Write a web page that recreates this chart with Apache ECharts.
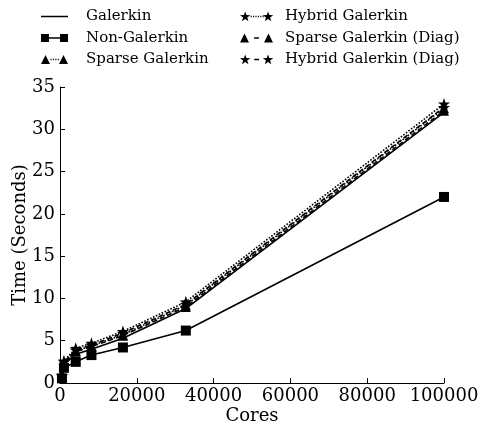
<!DOCTYPE html>
<html>
<head>
<meta charset="utf-8">
<script src="https://cdn.jsdelivr.net/npm/echarts@6/dist/echarts.min.js"></script>
<style>html,body{margin:0;padding:0;background:#fff;}#c{width:481px;height:427px;}</style>
</head>
<body>
<div id="c"></div>
<script>
const cores = [512, 1024, 4096, 8192, 16384, 32768, 100000];
const galerkin = [0.7, 2.2, 3.4, 4.0, 5.3, 8.8, 32.0];
const nonGalerkin = [0.55, 1.8, 2.5, 3.3, 4.2, 6.2, 22.0];
const sparseGalerkin = [0.8, 2.4, 3.8, 4.4, 5.7, 9.2, 32.5];
const hybridGalerkin = [0.9, 2.6, 4.1, 4.7, 6.1, 9.6, 33.0];
const sparseDiag = [0.8, 2.3, 3.7, 4.3, 5.6, 9.0, 32.2];
const hybridDiag = [0.85, 2.5, 3.9, 4.5, 5.9, 9.3, 32.6];
const xTicks = [0, 20000, 40000, 60000, 80000, 100000];
const yTicks = [0, 5, 10, 15, 20, 25, 30, 35];

const font = 'DejaVu Serif';
// ---- marker / legend icon path helpers (styling only) ----
const STAR = [[0,-10],[2.35,-3.24],[9.51,-3.09],[3.8,1.24],[5.88,8.09],[0,4],[-5.88,8.09],[-3.8,1.24],[-9.51,-3.09],[-2.35,-3.24]];
function starP(cx, cy, r){ return 'M' + STAR.map(p => (cx + p[0]*r/10).toFixed(2) + ',' + (cy + p[1]*r/10).toFixed(2)).join('L') + 'Z'; }
function sqP(cx, cy, s){ const h = s/2; return `M${cx-h},${cy-h}L${cx+h},${cy-h}L${cx+h},${cy+h}L${cx-h},${cy+h}Z`; }
function triP(cx, cy, s){ const h = s/2; return `M${cx},${cy-h}L${cx+h},${cy+h}L${cx-h},${cy+h}Z`; }
function rectP(x0, x1, y0, y1){ return `M${x0},${y0}L${x1},${y0}L${x1},${y1}L${x0},${y1}Z`; }
const W = 40, H = 12, CY = 6;
const bbox = `M0,0L0.01,0L0,0.01Z M${W},${H}L${W-0.01},${H}L${W},${H-0.01}Z`;
function seg(kind, x0, x1){
  const y0 = CY - 0.8, y1 = CY + 0.8;
  if (kind === 'solid') return rectP(x0, x1, y0, y1);
  let s = '';
  if (kind === 'dotted'){ for (let x = x0 + 1; x + 1 <= x1; x += 2.4) s += rectP(x, x + 1.1, y0, y1); }
  else { const m = (x0 + x1)/2; s = rectP(m - 2.4, m + 2.4, y0, y1); }
  return s;
}
function icon(marker, kind, dw){
  let m = '', gap0 = 0, gap1 = dw;
  if (marker === 'sq'){ m = sqP(4, CY, 8) + sqP(dw-4, CY, 8); gap0 = 8; gap1 = dw-8; }
  if (marker === 'tri'){ m = triP(4.5, CY, 9) + triP(dw-4.5, CY, 9); gap0 = 8.5; gap1 = dw-8.5; }
  if (marker === 'star'){ m = starP(5, CY+0.4, 5.5) + starP(dw-5, CY+0.4, 5.5); gap0 = 9.5; gap1 = dw-9.5; }
  return 'path://' + bbox + m + seg(kind, gap0, gap1);
}
const starSym = 'path://' + starP(0, 0, 10);

function pts(vals){ return cores.map((c,i)=>[c, vals[i]]); }
function ser(name, vals, symbol, size, type){
  return {
    name, type:'line', data: pts(vals),
    symbol: symbol || 'none', symbolSize: size || 0, showSymbol: !!symbol,
    lineStyle:{color:'#000', width:1.6, type: type || 'solid'},
    itemStyle:{color:'#000'},
    animation:false
  };
}
const chart = echarts.init(document.getElementById('c'));
const legendCommon = {
  orient:'vertical', top:4, itemWidth:W, itemHeight:H, itemGap:6.5,
  symbolKeepAspect:false,
  textStyle:{fontFamily:font, fontSize:15, color:'#000'}
};
chart.setOption({
  animation:false,
  backgroundColor:'#fff',
  legend:[
    Object.assign({left:36, data:[
      {name:'Galerkin', icon: icon('none','solid', 27)},
      {name:'Non-Galerkin', icon: icon('sq','solid', 27)},
      {name:'Sparse Galerkin', icon: icon('tri','dotted', 27)}
    ]}, legendCommon),
    Object.assign({left:235, data:[
      {name:'Hybrid Galerkin', icon: icon('star','dotted', 33)},
      {name:'Sparse Galerkin (Diag)', icon: icon('tri','dashed', 33)},
      {name:'Hybrid Galerkin (Diag)', icon: icon('star','dashed', 33)}
    ]}, legendCommon)
  ],
  grid:{left:60, right:37, top:87, bottom:44, outerBoundsMode:'none', containLabel:false},
  xAxis:{
    type:'value', min:0, max:100000, interval:20000,
    name:'Cores', nameLocation:'middle', nameGap:24, nameMoveOverlap:false,
    nameTextStyle:{fontFamily:font, fontSize:18, color:'#000'},
    axisLine:{lineStyle:{color:'#000', width:1}},
    axisTick:{inside:true, length:5, lineStyle:{color:'#000'}},
    axisLabel:{fontFamily:font, fontSize:18, color:'#000', margin:4,
      formatter: v => xTicks.includes(v) ? String(v) : ''},
    splitLine:{show:false}
  },
  yAxis:{
    type:'value', min:0, max:35, interval:5,
    name:'Time (Seconds)', nameLocation:'middle', nameGap:31, nameMoveOverlap:false,
    nameTextStyle:{fontFamily:font, fontSize:18, color:'#000'},
    axisLine:{show:true, lineStyle:{color:'#000', width:1}},
    axisTick:{show:true, inside:true, length:5, lineStyle:{color:'#000'}},
    axisLabel:{fontFamily:font, fontSize:18, color:'#000', margin:5,
      formatter: v => yTicks.includes(v) ? String(v) : ''},
    splitLine:{show:false}
  },
  series:[
    ser('Galerkin', galerkin, null, 0, 'solid'),
    ser('Non-Galerkin', nonGalerkin, 'rect', 10, 'solid'),
    ser('Sparse Galerkin', sparseGalerkin, 'triangle', 10, 'dotted'),
    ser('Hybrid Galerkin', hybridGalerkin, starSym, 12, 'dotted'),
    ser('Sparse Galerkin (Diag)', sparseDiag, 'triangle', 10, [5,3]),
    ser('Hybrid Galerkin (Diag)', hybridDiag, starSym, 12, [5,3])
  ]
});
</script>
</body>
</html>
